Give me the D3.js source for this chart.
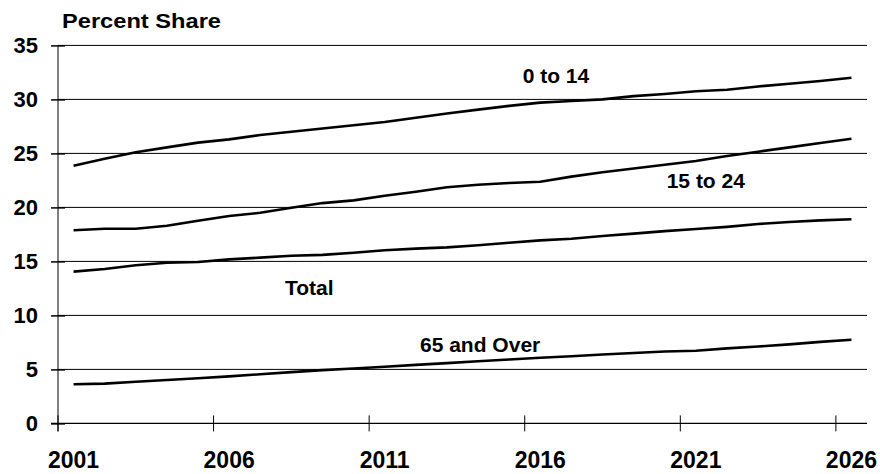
<!DOCTYPE html>
<html><head><meta charset="utf-8">
<script src="https://cdn.jsdelivr.net/npm/d3@7"></script>
<style>body{margin:0;background:#fff}svg{display:block}text{font-family:"Liberation Sans",Arial,sans-serif;font-weight:bold;fill:#000}</style>
</head><body>
<svg id="c" width="880" height="474"></svg>
<script>
const years = d3.range(2001, 2027);
const tickYears = [2001, 2006, 2011, 2016, 2021, 2026];
const yTicks = [0, 5, 10, 15, 20, 25, 30, 35];
const age0to14 = [23.86,24.5,25.1,25.56,26.0,26.3,26.7,27.0,27.3,27.6,27.9,28.3,28.7,29.05,29.4,29.7,29.85,30.0,30.3,30.5,30.75,30.9,31.2,31.45,31.7,32.0];
const age15to24 = [17.88,18.03,18.03,18.3,18.77,19.2,19.5,19.97,20.4,20.65,21.08,21.45,21.86,22.1,22.26,22.38,22.85,23.25,23.6,23.95,24.3,24.76,25.16,25.56,25.96,26.36];
const total = [14.05,14.3,14.64,14.88,14.94,15.19,15.35,15.53,15.6,15.8,16.03,16.18,16.3,16.49,16.73,16.95,17.1,17.35,17.57,17.8,18.0,18.2,18.46,18.65,18.8,18.9];
const age65plus = [3.62,3.68,3.85,4.02,4.18,4.35,4.55,4.75,4.93,5.08,5.25,5.42,5.58,5.75,5.92,6.08,6.22,6.38,6.52,6.66,6.72,6.95,7.12,7.32,7.55,7.75];
const series = [
  {name:"0 to 14", values: age0to14, lx: 522.7, ly: 82.7},
  {name:"15 to 24", values: age15to24, lx: 666.7, ly: 188.3},
  {name:"Total", values: total, lx: 285, ly: 295},
  {name:"65 and Over", values: age65plus, lx: 420, ly: 351.7}
];

const svg = d3.select("#c");
const L = 58, R = 867, T = 45.4, B = 423.4;
const x = d3.scaleBand().domain(years).range([L, R]).padding(0);
const y = d3.scaleLinear().domain([0, 35]).range([B, T]);
const FONT = '"Liberation Sans",Arial,sans-serif';

// gridlines
svg.append("g").selectAll("line").data(yTicks.filter(d => d > 0)).join("line")
  .attr("x1", L).attr("x2", R).attr("y1", d => y(d)).attr("y2", d => y(d))
  .attr("stroke", "#000").attr("stroke-width", 1);

// y axis: left with labels, right ticks for cross marks
const ya = svg.append("g").attr("transform", `translate(${L},0)`)
  .call(d3.axisLeft(y).tickValues(yTicks).tickSize(7).tickPadding(13).tickFormat(d3.format("d")));
ya.select(".domain").remove();
ya.selectAll("line").attr("stroke", "#000").attr("stroke-width", 1.5);
ya.selectAll("text").attr("font-size", 22).attr("font-family", FONT).attr("font-weight", "bold").attr("fill", "#000");
const ya2 = svg.append("g").attr("transform", `translate(${L},0)`)
  .call(d3.axisRight(y).tickValues(yTicks).tickSize(7).tickFormat(""));
ya2.select(".domain").remove();
ya2.selectAll("line").attr("stroke", "#000").attr("stroke-width", 1.5);
svg.append("line").attr("x1", L).attr("x2", L).attr("y1", T).attr("y2", B + 8).attr("stroke", "#000").attr("stroke-width", 1);

// x axis line
svg.append("line").attr("x1", L - 7).attr("x2", R).attr("y1", y(0)).attr("y2", y(0)).attr("stroke", "#000").attr("stroke-width", 1.2);
// x tick marks at category boundaries
svg.append("g").selectAll("line").data(tickYears).join("line")
  .attr("x1", d => x(d)).attr("x2", d => x(d)).attr("y1", y(0) - 8).attr("y2", y(0) + 8)
  .attr("stroke", "#000").attr("stroke-width", 1);
// x labels centred on categories
const xa = svg.append("g").attr("transform", `translate(0,${y(0)})`)
  .call(d3.axisBottom(x).tickValues(tickYears).tickSize(0).tickPadding(45));
xa.select(".domain").remove();
xa.selectAll("text").attr("font-size", 23).attr("font-family", FONT).attr("font-weight", "bold").attr("fill", "#000").attr("dy", 0);

// lines
const line = d3.line().x((d, i) => x(years[i]) + x.bandwidth() / 2).y(d => y(d));
svg.append("g").selectAll("path").data(series).join("path")
  .attr("d", d => line(d.values)).attr("fill", "none").attr("stroke", "#000").attr("stroke-width", 2.6)
  .attr("stroke-linejoin", "round");

// series labels
svg.append("g").selectAll("text").data(series).join("text")
  .attr("x", d => d.lx).attr("y", d => d.ly).attr("font-size", 21).text(d => d.name);

// axis title
svg.append("text").attr("x", 62).attr("y", 27.5).attr("font-size", 20)
  .attr("textLength", 159).attr("lengthAdjust", "spacingAndGlyphs").text("Percent Share");
</script>
</body></html>
